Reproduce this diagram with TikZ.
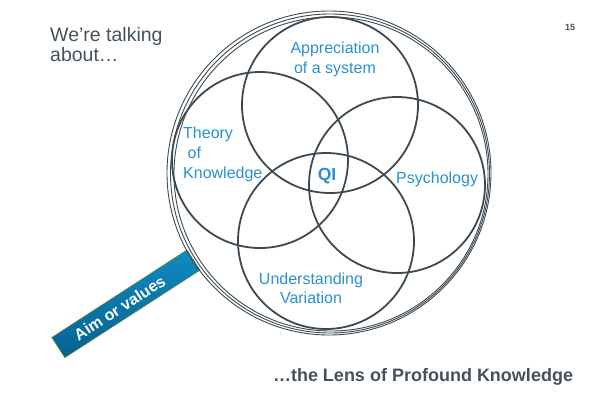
\documentclass[tikz,border=0pt]{standalone}
\usepackage{fontspec}
\setmainfont{Liberation Sans}
\usetikzlibrary{calc, positioning}
\definecolor{lensgray}{HTML}{3E4A52}
\definecolor{labelblue}{HTML}{2A91CF}
\definecolor{titlegray}{HTML}{46525A}
\definecolor{handletop}{HTML}{108AC2}
\definecolor{handlemid}{HTML}{0A7FB7}
\definecolor{handlebot}{HTML}{06628F}
\definecolor{handleedge}{HTML}{5E8E3E}

\tikzset{
  ring/.style={draw=lensgray, line width=1.8pt},
  rim/.style={draw=lensgray, line width=0.9pt},
  lbl/.style={text=labelblue, font=\fontsize{16}{20}\selectfont, inner sep=0pt},
  handlebar/.style={draw=handleedge, line width=0.6pt, top color=handletop, middle color=handlemid,
    bottom color=handlebot, minimum width=161pt, minimum height=24pt, inner sep=0pt},
  handletext/.style={inner sep=0pt, text=white, font=\fontsize{16}{18}\selectfont\bfseries}
}

\begin{document}
\begin{tikzpicture}[x=1pt, y=-1pt]
    \useasboundingbox[fill=white] (0,0) rectangle (600,394);

    % handle first, lens on top
    \node[handlebar, rotate=32.9] (aim) at (125.9,303.8) {};
    \node[handletext, rotate=32.9] (aimtext) at ($(aim.center)+(-6.3,4.1)$) {Aim or values};

    % lens rim
    \coordinate (lens) at (330,173.5);
    \draw[rim] ($(lens)+(1,0.5)$) circle (157pt);
    \draw[rim] (lens) circle (159.5pt);
    \draw[rim] ($(lens)+(-1,-0.5)$) circle (162pt);

    % four lenses of profound knowledge
    \coordinate (app) at (330,105);
    \coordinate (tok) at (260,160);
    \coordinate (psy) at (397,185);
    \coordinate (var) at (326,241);
    \draw[ring] (app) circle (88pt);
    \draw[ring] (tok) circle (88pt);
    \draw[ring] (psy) circle (88pt);
    \draw[ring] (var) circle (88pt);

    \node[lbl, align=center] (appl) at (335,59.5) {Appreciation\\of a system};
    \node[lbl, align=left, anchor=west] (tokl) at (183,154) {Theory\\\ of\\Knowledge};
    \node[lbl, anchor=base west] (psyl) at (396,183) {Psychology};
    \node[lbl, align=center, font=\fontsize{16}{19}\selectfont] (varl) at (311,288) {Understanding\\Variation};
    \node[lbl, anchor=base, font=\fontsize{17.5}{20}\selectfont\bfseries] (qi) at (327,180.7) {QI};

    \node[anchor=west, align=left, inner sep=0pt, text=titlegray, font=\fontsize{19.5}{17}\selectfont] (talk) at (50,44.5) {We’re talking\\about…};
    \node[anchor=base, inner sep=0pt, text=titlegray, font=\fontsize{9}{10}\selectfont\bfseries] (page) at (570,30.7) {15};
    \node[anchor=base, inner sep=0pt, text=titlegray, font=\fontsize{18}{20}\selectfont\bfseries] (lensname) at (423,381.7) {…the Lens of Profound Knowledge};
\end{tikzpicture}
\end{document}
